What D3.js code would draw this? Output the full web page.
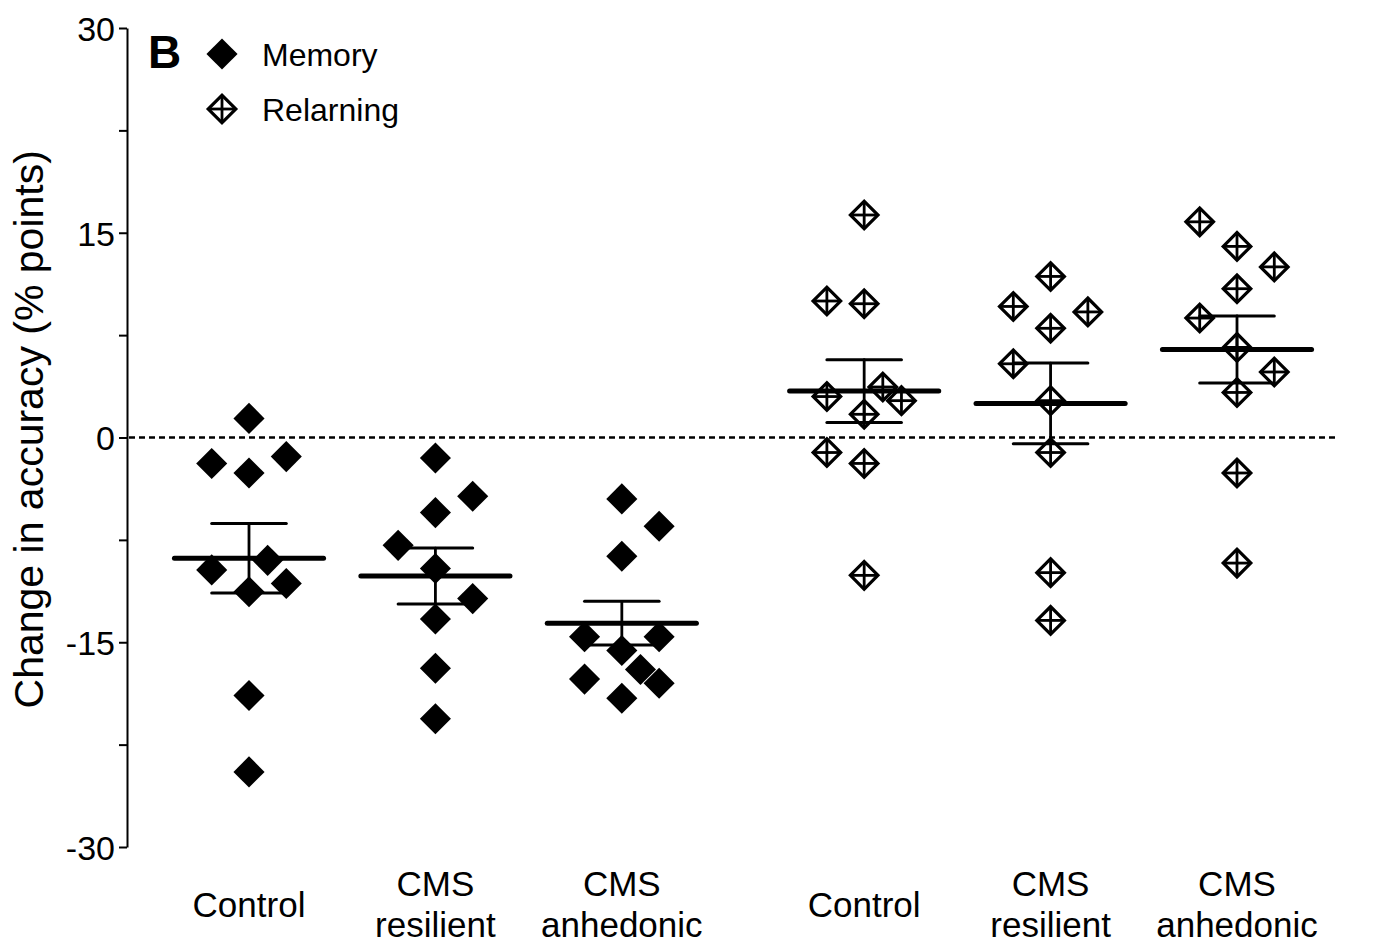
<!DOCTYPE html>
<html><head><meta charset="utf-8">
<script src="https://cdn.jsdelivr.net/npm/d3@7"></script>
<style>
body{margin:0;background:#fff}
svg{display:block}
text{font-family:"Liberation Sans",Arial,sans-serif;fill:#000}
</style>
</head><body>
<svg id="chart" width="1373" height="945"></svg>
<script>
// ---------- data ----------
const groupLabels = [["Control"],["CMS","resilient"],["CMS","anhedonic"],["Control"],["CMS","resilient"],["CMS","anhedonic"]];
const groupPositions = [0, 1, 2, 3.3, 4.3, 5.3];
const seriesNames = ["Memory", "Relarning"];
const yTicks = [30, 15, 0, -15, -30];
const yMinorTicks = [22.5, 7.5, -7.5, -22.5];

const memoryControl    = [1.4, -1.9, -2.6, -1.4, -9.7, -9.0, -11.3, -10.7, -18.9, -24.5];
const memoryControlSlot= [0, -1, 0, 1, -1, 0.5, 0, 1, 0, 0];
const memoryResilient    = [-1.5, -4.3, -5.5, -7.9, -9.6, -11.8, -13.3, -16.9, -20.6];
const memoryResilientSlot= [0, 1, 0, -1, 0, 1, 0, 0, 0];
const memoryAnhedonic    = [-4.5, -6.5, -8.7, -14.6, -14.6, -15.6, -17.0, -18.0, -17.7, -19.1];
const memoryAnhedonicSlot= [0, 1, 0, -1, 1, 0, 0.5, 1, -1, 0];

const relearnControl    = [16.3, 10.0, 9.8, 3.0, 3.7, 2.7, 1.7, -1.1, -1.9, -10.1];
const relearnControlSlot= [0, -1, 0, -1, 0.5, 1, 0, -1, 0, 0];
const relearnResilient    = [11.8, 9.6, 9.2, 8.0, 5.4, 2.7, -1.1, -9.9, -13.4];
const relearnResilientSlot= [0, -1, 1, 0, -1, 0, 0, 0, 0];
const relearnAnhedonic    = [15.8, 14.0, 12.5, 10.9, 8.75, 6.6, 4.8, 3.3, -2.6, -9.2];
const relearnAnhedonicSlot= [-1, 0, 1, 0, -1, 0, 1, 0, 0, 0];

const groupMeans = [-8.85, -10.15, -13.6, 3.4, 2.5, 6.45];
const groupSEM   = [2.55, 2.05, 1.6, 2.3, 2.95, 2.45];
const groupSeries = [0, 0, 0, 1, 1, 1];

const groupValues = [memoryControl, memoryResilient, memoryAnhedonic, relearnControl, relearnResilient, relearnAnhedonic];
const groupSlots  = [memoryControlSlot, memoryResilientSlot, memoryAnhedonicSlot, relearnControlSlot, relearnResilientSlot, relearnAnhedonicSlot];

// ---------- layout ----------
const svg = d3.select("#chart");
const y = d3.scaleLinear().domain([-30, 30]).range([847, 28]);
const x = d3.scaleLinear().domain([0, 5.3]).range([249, 1237]);
const slotW = 0.2;
const meanHalf = 0.4;
const capHalf = 0.2;
const axisX = 127;

// y axis
const yAxis = d3.axisLeft(y).tickValues(yTicks).tickSize(8).tickSizeOuter(0).tickPadding(4)
  .tickFormat(d => String(d));
const ga = svg.append("g").attr("transform", `translate(${axisX},0)`).call(yAxis);
ga.attr("font-family", null);
ga.select(".domain").attr("stroke", "#000").attr("stroke-width", 2);
ga.selectAll(".tick line").attr("stroke", "#000").attr("stroke-width", 2);
ga.selectAll(".tick text").attr("font-size", 34).attr("fill", "#000").attr("dy", "0.36em");
const gm = svg.append("g").attr("transform", `translate(${axisX},0)`)
  .call(d3.axisLeft(y).tickValues(yMinorTicks).tickSize(8).tickFormat(""));
gm.select(".domain").remove();
gm.selectAll(".tick line").attr("stroke", "#000").attr("stroke-width", 2);

// y title
svg.append("text")
  .attr("transform", `translate(43,${y(0.6)}) rotate(-90)`)
  .attr("text-anchor", "middle")
  .attr("font-size", 41)
  .text("Change in accuracy (% points)");

// zero line
svg.append("line")
  .attr("x1", axisX + 2).attr("x2", 1338)
  .attr("y1", y(0)).attr("y2", y(0))
  .attr("stroke", "#000").attr("stroke-width", 2.5).attr("stroke-dasharray", "6,4");

// marker drawing
const markerSide = 22;
const sq = d3.symbol().type(d3.symbolSquare);
function drawMarker(g, cx, cy, s, hollow) {
  const m = g.append("g").attr("transform", `translate(${cx},${cy})`);
  if (!hollow) {
    m.append("path").attr("d", sq.size(s * s)()).attr("transform", "rotate(45)").attr("fill", "#000");
  } else {
    const side = s - 2.5;
    const h = side * Math.SQRT1_2;
    m.append("path").attr("d", sq.size(side * side)()).attr("transform", "rotate(45)")
      .attr("fill", "#fff").attr("stroke", "#000").attr("stroke-width", 3.2).attr("stroke-linejoin", "miter");
    m.append("line").attr("x1", -h).attr("x2", h).attr("y1", 0).attr("y2", 0).attr("stroke", "#000").attr("stroke-width", 2.8);
    m.append("line").attr("x1", 0).attr("x2", 0).attr("y1", -h).attr("y2", h).attr("stroke", "#000").attr("stroke-width", 2.8);
  }
}

// points
const gp = svg.append("g");
groupValues.forEach((vals, gi) => {
  vals.forEach((v, i) => {
    const cx = x(groupPositions[gi] + groupSlots[gi][i] * slotW);
    drawMarker(gp, cx, y(v), markerSide, groupSeries[gi] === 1);
  });
});

// mean and SEM
const ge = svg.append("g").attr("stroke", "#000").attr("stroke-linecap", "round");
groupMeans.forEach((m, gi) => {
  const p = groupPositions[gi];
  const hi = m + groupSEM[gi], lo = m - groupSEM[gi];
  ge.append("line").attr("x1", x(p)).attr("x2", x(p)).attr("y1", y(hi)).attr("y2", y(lo)).attr("stroke-width", 2.8);
  ge.append("line").attr("x1", x(p - capHalf)).attr("x2", x(p + capHalf)).attr("y1", y(hi)).attr("y2", y(hi)).attr("stroke-width", 3);
  ge.append("line").attr("x1", x(p - capHalf)).attr("x2", x(p + capHalf)).attr("y1", y(lo)).attr("y2", y(lo)).attr("stroke-width", 3);
  ge.append("line").attr("x1", x(p - meanHalf)).attr("x2", x(p + meanHalf)).attr("y1", y(m)).attr("y2", y(m)).attr("stroke-width", 5);
});

// x labels
groupLabels.forEach((lines, gi) => {
  const cx = x(groupPositions[gi]);
  const t = svg.append("text").attr("text-anchor", "middle").attr("font-size", 35).attr("x", cx);
  if (lines.length === 1) {
    t.attr("y", 917).text(lines[0]);
  } else {
    t.append("tspan").attr("x", cx).attr("y", 896).text(lines[0]);
    t.append("tspan").attr("x", cx).attr("y", 937).text(lines[1]);
  }
});

// panel letter and legend
svg.append("text").attr("x", 148).attr("y", 68).attr("font-size", 46).attr("font-weight", "bold").text("B");
const gl = svg.append("g");
const legendY = [54, 109];
seriesNames.forEach((name, i) => {
  drawMarker(gl, 222, legendY[i], markerSide, i === 1);
  gl.append("text").attr("x", 262).attr("y", legendY[i] + 12).attr("font-size", 32).text(name);
});
</script>
</body></html>
